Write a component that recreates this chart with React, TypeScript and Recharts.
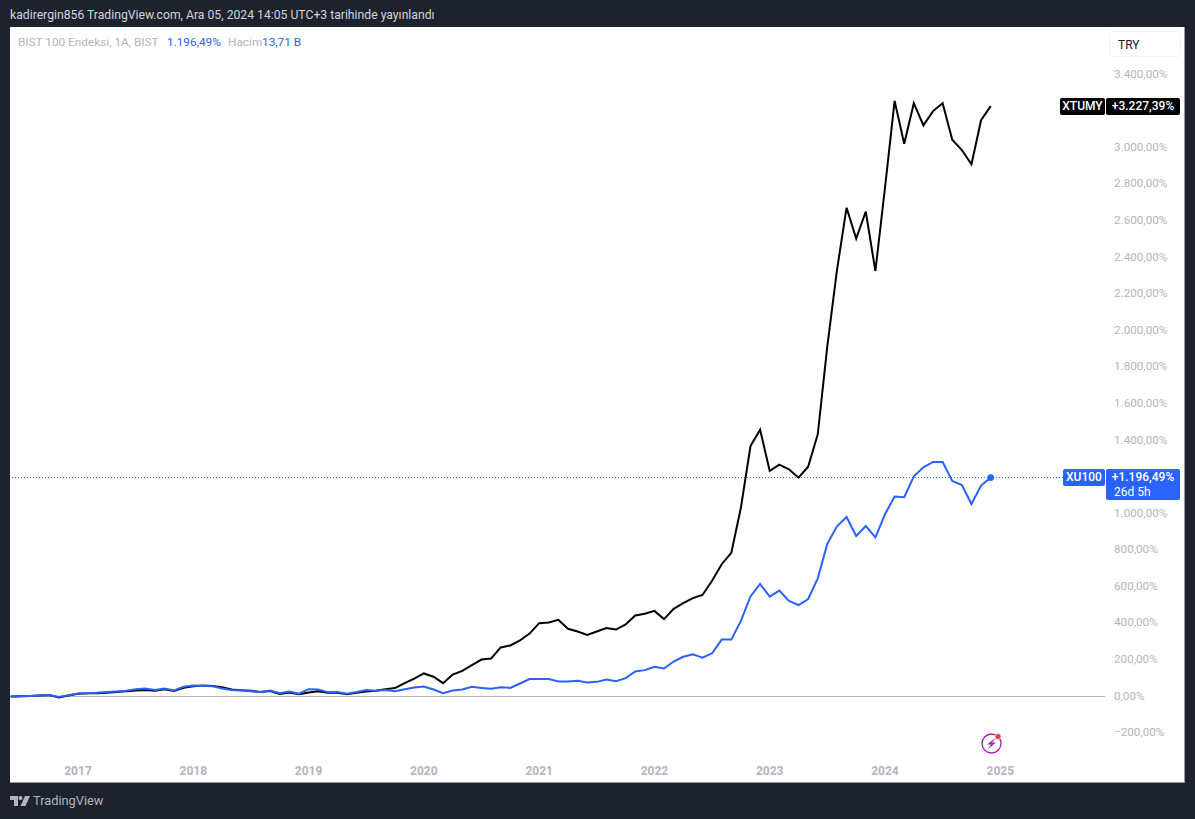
import { LineChart, Line, XAxis, YAxis, ReferenceLine, ReferenceDot } from 'recharts'

// monthly % change, first point is June 2016
const xu100 = [
  0, 1, 3, 5, 8, -3, 7, 16, 18, 20, 24, 27, 31, 40, 44, 35, 44, 33, 53, 60,
  58, 56, 44, 35, 33, 29, 24, 33, 18, 27, 15, 40, 38, 24, 24, 15, 24, 35, 31, 35,
  29, 40, 49, 55, 38, 18, 33, 38, 53, 47, 42, 51, 47, 71, 95, 95, 95, 82, 82, 86,
  77, 80, 93, 84, 100, 137, 144, 162, 153, 191, 217, 231, 212, 236, 311, 311, 413, 547, 615, 546,
  579, 522, 500, 533, 646, 835, 930, 981, 877, 932, 870, 996, 1093, 1089, 1204, 1253, 1282, 1282, 1178, 1156,
  1052, 1153, 1196.49,
]
const xtumy = [
  0, 1, 3, 5, 8, -6, 5, 15, 17, 18, 21, 25, 28, 33, 36, 31, 39, 30, 48, 56,
  60, 58, 50, 38, 34, 31, 25, 30, 14, 22, 12, 22, 28, 20, 20, 12, 20, 27, 31, 40,
  46, 73, 98, 126, 108, 73, 120, 140, 171, 202, 208, 268, 279, 306, 344, 401, 405, 419, 370, 355,
  337, 355, 374, 366, 394, 443, 452, 468, 423, 479, 510, 538, 555, 633, 723, 785, 1032, 1369, 1458, 1233,
  1267, 1242, 1196, 1256, 1433, 1916, 2330, 2672, 2503, 2650, 2326, 2781, 3256, 3022, 3243, 3122, 3200, 3243, 3044, 2987,
  2909, 3150, 3227.39,
]
const yearTicks = [7, 19, 31, 43, 55, 67, 79, 91, 103]
const yearLabels = ['2017', '2018', '2019', '2020', '2021', '2022', '2023', '2024', '2025']
// 3.200 and 1.200 sit under the price tags so they are left out
const percentTicks = [-200, 0, 200, 400, 600, 800, 1000, 1400, 1600, 1800, 2000, 2200, 2400, 2600, 2800, 3000, 3400]

const chartData = xu100.map((value, index) => ({
  index,
  xu100: value,
  xtumy: xtumy[index],
}))

const fontFamily = 'Roboto, sans-serif'
const axisColor = '#b2b5be'
const blue = '#2962ff'

const formatPercent = (value: number) => {
  const whole = String(Math.abs(value)).replace(/\B(?=(\d{3})+$)/g, '.')
  return (value < 0 ? '\u2212' : '') + whole + ',00%'
}

const formatYear = (value: number) => yearLabels[yearTicks.indexOf(value)]

const Tag = ({ left, top, width, height, bg, children }: any) => (
  <div
    style={{
      position: 'absolute', left, top, width, height, background: bg, color: '#fff',
      fontFamily, fontSize: 12, fontWeight: 500, lineHeight: '17px', borderRadius: 2, textAlign: 'center',
    }}
  >
    {children}
  </div>
)

const Label = ({ left, top, color, size = 11.8, children }: any) => (
  <div
    style={{
      position: 'absolute', left, top, color, fontFamily, fontSize: size,
      lineHeight: '16px', whiteSpace: 'nowrap',
    }}
  >
    {children}
  </div>
)

const App = () => {
  return (
    <div style={{ position: 'absolute', left: 0, top: 0, width: 1195, height: 819, background: '#1e222d', overflow: 'hidden' }}>
      <div
        style={{
          position: 'absolute', left: 10, top: 27, width: 1174, height: 755,
          background: '#fff', borderRight: '1px solid #9598a1', borderBottom: '1px solid #9598a1',
        }}
      />
      <div style={{ position: 'absolute', left: 0, top: 0 }}>
        <LineChart width={1195} height={819} data={chartData} margin={{ top: 27, right: 10, bottom: 36, left: 10 }}>
          <XAxis
            dataKey="index"
            type="number"
            domain={[-0.08, 113.9]}
            ticks={yearTicks}
            tickFormatter={formatYear}
            axisLine={false}
            tickLine={false}
            height={26}
            tickMargin={3}
            interval={0}
            allowDataOverflow
            tick={{ fill: axisColor, fontSize: 12, fontWeight: 700, fontFamily }}
          />
          <YAxis
            orientation="right"
            type="number"
            domain={[-330.8, 3659.7]}
            ticks={percentTicks}
            tickFormatter={formatPercent}
            axisLine={false}
            tickLine={false}
            tickSize={0}
            tickMargin={9}
            width={80}
            interval={0}
            allowDataOverflow
            tick={{ fill: axisColor, fontSize: 11.7, fontFamily, textAnchor: 'start', dy: -1 }}
          />
          <ReferenceLine y={0} stroke={axisColor} strokeWidth={1} />
          <ReferenceLine y={1196.49} stroke={blue} strokeWidth={1} strokeDasharray="1 2" />
          <Line dataKey="xtumy" stroke="#000000" strokeWidth={2} dot={false} type="linear" isAnimationActive={false} />
          <Line dataKey="xu100" stroke={blue} strokeWidth={2} dot={false} type="linear" isAnimationActive={false} />
          <ReferenceDot x={102} y={1196.49} r={3} fill={blue} stroke={blue} />
        </LineChart>
      </div>

      <Label left={10} top={7} color="#d1d4dc" size={12.2}>
        kadirergin856 TradingView.com, Ara 05, 2024 14:05 UTC+3 tarihinde yayınlandı
      </Label>
      <Label left={18} top={34} color="#b2b5be">BIST 100 Endeksi, 1A, BIST</Label>
      <Label left={167} top={34} color={blue}>1.196,49%</Label>
      <Label left={228} top={34} color="#b2b5be">Hacim</Label>
      <Label left={262} top={34} color={blue}>13,71 B</Label>

      <div
        style={{
          position: 'absolute', left: 1109, top: 31, width: 70, height: 24, border: '1px solid #f0f3fa',
          borderRadius: 4, color: '#131722', fontFamily, fontSize: 12, lineHeight: '26px', textIndent: 8,
        }}
      >
        TRY
      </div>

      <Tag left={1060} top={98} width={45} height={17} bg="#000">XTUMY</Tag>
      <Tag left={1106} top={98} width={74} height={17} bg="#000">+3.227,39%</Tag>
      <Tag left={1063} top={469} width={42} height={17} bg={blue}>XU100</Tag>
      <Tag left={1106} top={469} width={74} height={31} bg={blue}>
        <div style={{ lineHeight: '15px', paddingTop: 1 }}>+1.196,49%</div>
        <div style={{ lineHeight: '14px', textAlign: 'left', paddingLeft: 8, fontWeight: 400 }}>26d 5h</div>
      </Tag>

      <svg style={{ position: 'absolute', left: 978, top: 730 }} width={28} height={28} viewBox="0 0 28 28">
        <circle cx={13.5} cy={13.5} r={9.5} fill="none" stroke="#9c27b0" strokeWidth={1.3} />
        <path d="M18 7.5 L9 14.6 L13 14.6 L9.5 19.5 L18 12.6 L14 12.6 Z" fill="#9c27b0" />
        <circle cx={20} cy={6.5} r={3} fill="#f23645" stroke="#fff" strokeWidth={0.6} />
      </svg>

      <svg style={{ position: 'absolute', left: 10, top: 796 }} width={20} height={10} viewBox="0 0 20 10">
        <path d="M0 0 H8 V10 H4 V4 H0 Z" fill="#b2b5be" />
        <circle cx={10.5} cy={2} r={2} fill="#b2b5be" />
        <path d="M15 0 H20 L15.5 10 H10.5 Z" fill="#b2b5be" />
      </svg>
      <Label left={33} top={793} color="#b2b5be" size={12.8}>TradingView</Label>
    </div>
  )
}

export default App
